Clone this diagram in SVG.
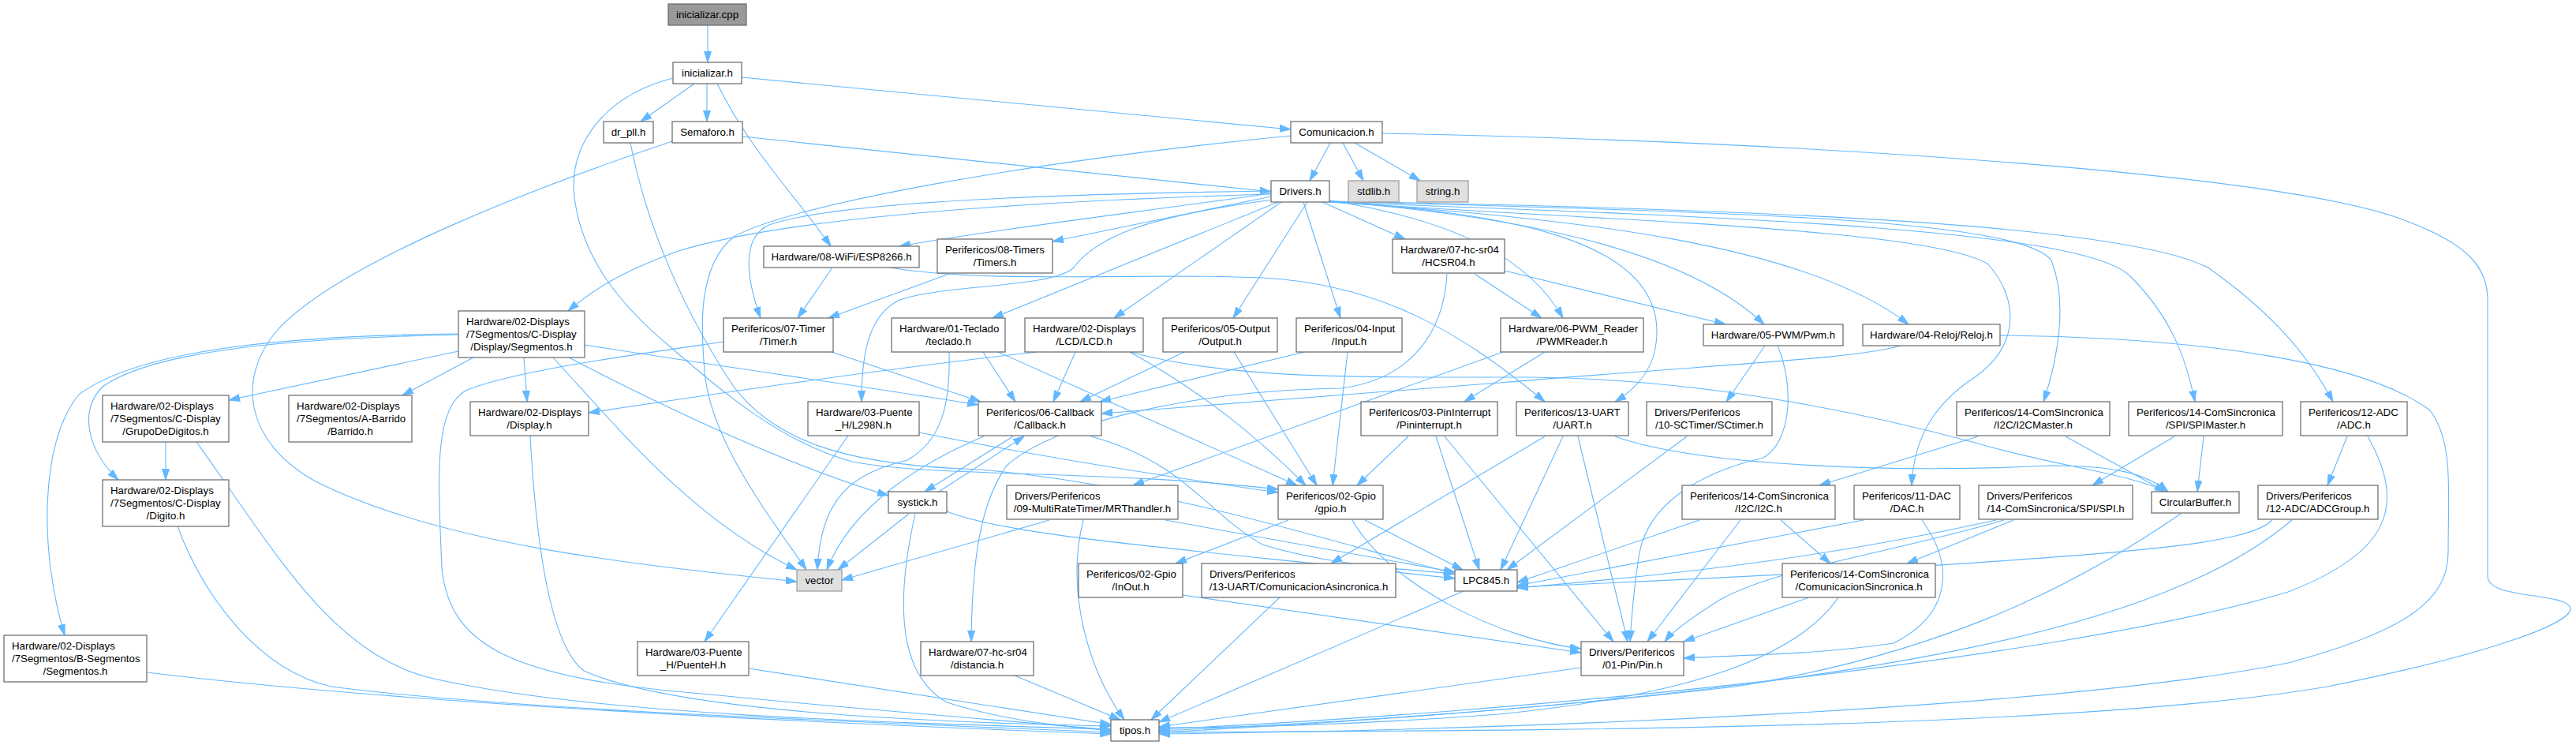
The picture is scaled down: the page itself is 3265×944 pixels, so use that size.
<svg xmlns="http://www.w3.org/2000/svg" width="3265" height="944" viewBox="0 0 3265 944">
<style>
.e{fill:none;stroke:#63b8ff;stroke-width:1.1}
.n rect{fill:#ffffff;stroke:#666666;stroke-width:1.2}
.r rect{fill:#999999;stroke:#666666;stroke-width:1.2}
.x rect{fill:#e0e0e0;stroke:#999999;stroke-width:1.2}
text{font-family:"Liberation Sans",Arial,sans-serif;font-size:13.3px;fill:#000000}
.c{text-anchor:middle}
.l{text-anchor:start}
</style>
<defs>
<marker id="a" markerWidth="14" markerHeight="10" refX="14" refY="5" orient="auto" markerUnits="userSpaceOnUse">
<path d="M0,0.5 L14,5 L0,9.5 z" fill="#63b8ff" stroke="#63b8ff" stroke-width="1"/>
</marker>
</defs>
<rect x="0" y="0" width="3265" height="944" fill="#ffffff"/>
<g id="edges">
<path class="e" marker-end="url(#a)" d="M897,32 L897,79"/>
<path class="e" marker-end="url(#a)" d="M880,106 L812,154"/>
<path class="e" marker-end="url(#a)" d="M896,106 L896,154"/>
<path class="e" marker-end="url(#a)" d="M940,98 L1636,164"/>
<path class="e" marker-end="url(#a)" d="M909,106 C950,190 1010,250 1053,312"/>
<path class="e" marker-end="url(#a)" d="M853,99 C770,120 720,180 728,250 C738,330 790,390 850,440 C920,500 990,560 1080,585 C1180,605 1400,595 1620,620"/>
<path class="e" marker-end="url(#a)" d="M799,181 C820,290 870,400 930,490 C990,570 1100,590 1240,595 C1460,612 1700,690 1844,727"/>
<path class="e" marker-end="url(#a)" d="M941,173 L1611,243"/>
<path class="e" marker-end="url(#a)" d="M852,179 C700,230 430,330 350,420 C300,480 310,560 400,610 C560,690 800,715 1010,737"/>
<path class="e" marker-end="url(#a)" d="M1686,181 L1660,229"/>
<path class="e" marker-end="url(#a)" d="M1702,181 L1728,229"/>
<path class="e" marker-end="url(#a)" d="M1717,181 L1800,229"/>
<path class="e" marker-end="url(#a)" d="M1752,169 C2300,180 2900,220 3050,280 C3130,310 3153,340 3153,380 L3153,730 C3153,760 3250,750 3258,770 C3262,790 3150,830 2950,870 C2600,930 1800,925 1469,928"/>
<path class="e" marker-end="url(#a)" d="M1636,172 C1300,205 1000,260 930,300 C880,340 890,430 893,470 C900,560 980,660 1022,722"/>
<path class="e" marker-end="url(#a)" d="M1611,245 C1450,268 1250,292 1140,312"/>
<path class="e" marker-end="url(#a)" d="M1611,249 L1334,306"/>
<path class="e" marker-end="url(#a)" d="M1611,242 C1300,246 1050,258 975,285 C940,300 945,350 964,403"/>
<path class="e" marker-end="url(#a)" d="M1611,246 C1300,255 1000,275 860,318 C800,340 760,360 720,394"/>
<path class="e" marker-end="url(#a)" d="M1613,253 C1450,275 1390,300 1360,340 C1330,365 1200,360 1140,380 C1100,400 1092,450 1092,509"/>
<path class="e" marker-end="url(#a)" d="M1620,256 L1258,403"/>
<path class="e" marker-end="url(#a)" d="M1624,256 L1412,403"/>
<path class="e" marker-end="url(#a)" d="M1657,256 L1563,403"/>
<path class="e" marker-end="url(#a)" d="M1652,256 L1699,403"/>
<path class="e" marker-end="url(#a)" d="M1676,256 L1781,303"/>
<path class="e" marker-end="url(#a)" d="M1685,254 C1850,280 1940,330 1981,403"/>
<path class="e" marker-end="url(#a)" d="M1685,255 C1900,272 2130,310 2236,411"/>
<path class="e" marker-end="url(#a)" d="M1685,256 C2000,276 2290,310 2419,411"/>
<path class="e" marker-end="url(#a)" d="M1685,255 C1900,270 2100,300 2100,420 C2100,470 2070,495 2047,509"/>
<path class="e" marker-end="url(#a)" d="M1685,256 C2050,280 2450,290 2520,335 C2560,380 2560,440 2500,480 C2440,520 2425,570 2423,615"/>
<path class="e" marker-end="url(#a)" d="M1685,255 C2150,268 2560,275 2600,330 C2620,380 2610,450 2590,509"/>
<path class="e" marker-end="url(#a)" d="M1685,256 C2200,275 2640,290 2700,350 C2750,400 2770,450 2782,509"/>
<path class="e" marker-end="url(#a)" d="M1685,255 C2250,265 2700,285 2800,340 C2870,390 2920,440 2957,509"/>
<path class="e" marker-end="url(#a)" d="M1055,339 L1011,403"/>
<path class="e" marker-end="url(#a)" d="M1128,339 C1250,360 1450,345 1600,352 C1750,360 1850,420 1958,509"/>
<path class="e" marker-end="url(#a)" d="M1203,347 L1050,403"/>
<path class="e" marker-end="url(#a)" d="M1869,347 L1954,403"/>
<path class="e" marker-end="url(#a)" d="M1907,343 L2187,411"/>
<path class="e" marker-end="url(#a)" d="M1834,347 C1830,420 1790,480 1700,492 C1500,495 1330,540 1276,590 C1240,640 1232,720 1231,813"/>
<path class="e" marker-end="url(#a)" d="M581,445 L290,507"/>
<path class="e" marker-end="url(#a)" d="M581,424 C400,428 200,440 130,490 C100,520 110,570 150,608"/>
<path class="e" marker-end="url(#a)" d="M581,423 C380,425 180,440 100,500 C50,560 50,700 82,805"/>
<path class="e" marker-end="url(#a)" d="M600,453 L510,501"/>
<path class="e" marker-end="url(#a)" d="M664,453 L668,509"/>
<path class="e" marker-end="url(#a)" d="M701,453 C790,550 880,660 1010,722"/>
<path class="e" marker-end="url(#a)" d="M721,453 C850,520 1000,590 1126,628"/>
<path class="e" marker-end="url(#a)" d="M741,437 C950,470 1100,490 1240,513"/>
<path class="e" marker-end="url(#a)" d="M1051,445 L1243,509"/>
<path class="e" marker-end="url(#a)" d="M917,433 C800,450 650,470 590,495 C550,520 555,600 560,720 C570,820 650,860 900,880 C1100,900 1300,915 1408,925"/>
<path class="e" marker-end="url(#a)" d="M1203,446 C1205,520 1190,560 1150,583 C1080,600 1040,630 1036,722"/>
<path class="e" marker-end="url(#a)" d="M1246,446 L1287,509"/>
<path class="e" marker-end="url(#a)" d="M1265,446 L1644,615"/>
<path class="e" marker-end="url(#a)" d="M1363,446 L1335,509"/>
<path class="e" marker-end="url(#a)" d="M1432,446 C1530,500 1600,560 1655,615"/>
<path class="e" marker-end="url(#a)" d="M1314,446 C1100,470 900,500 746,523"/>
<path class="e" marker-end="url(#a)" d="M1432,446 C1560,480 1700,478 1940,478 C2150,480 2350,520 2500,560 C2600,590 2700,600 2745,623"/>
<path class="e" marker-end="url(#a)" d="M1501,446 L1369,509"/>
<path class="e" marker-end="url(#a)" d="M1564,446 L1669,615"/>
<path class="e" marker-end="url(#a)" d="M1653,446 L1394,509"/>
<path class="e" marker-end="url(#a)" d="M1708,446 L1689,615"/>
<path class="e" marker-end="url(#a)" d="M1905,446 L1436,615"/>
<path class="e" marker-end="url(#a)" d="M1958,446 L1856,509"/>
<path class="e" marker-end="url(#a)" d="M2237,438 L2188,509"/>
<path class="e" marker-end="url(#a)" d="M2253,438 C2275,490 2270,560 2235,580 C2150,600 2090,640 2078,700 C2070,750 2068,780 2066,813"/>
<path class="e" marker-end="url(#a)" d="M2409,438 C2350,455 2200,460 1900,485 C1700,500 1500,515 1396,524"/>
<path class="e" marker-end="url(#a)" d="M2535,425 C2800,428 3000,460 3080,520 C3110,560 3103,620 3103,700 C3103,760 3050,800 2900,840 C2600,900 1900,925 1469,930"/>
<path class="e" marker-end="url(#a)" d="M1165,548 C1300,575 1450,600 1620,624"/>
<path class="e" marker-end="url(#a)" d="M1075,552 L893,813"/>
<path class="e" marker-end="url(#a)" d="M1247,553 C1170,585 1080,640 1048,722"/>
<path class="e" marker-end="url(#a)" d="M1284,553 L1172,623"/>
<path class="e" marker-end="url(#a)" d="M1383,553 C1500,585 1530,650 1600,690 C1680,715 1780,722 1844,727"/>
<path class="e" marker-end="url(#a)" d="M1190,623 L1298,553"/>
<path class="e" marker-end="url(#a)" d="M1152,651 L1062,722"/>
<path class="e" marker-end="url(#a)" d="M1160,651 C1140,740 1130,850 1200,890 C1280,915 1350,920 1408,926"/>
<path class="e" marker-end="url(#a)" d="M1200,648 C1280,680 1500,695 1844,733"/>
<path class="e" marker-end="url(#a)" d="M1330,659 L1067,735"/>
<path class="e" marker-end="url(#a)" d="M1373,659 C1350,750 1380,850 1425,912"/>
<path class="e" marker-end="url(#a)" d="M1477,659 L1844,725"/>
<path class="e" marker-end="url(#a)" d="M1785,553 L1720,615"/>
<path class="e" marker-end="url(#a)" d="M1820,553 L1875,722"/>
<path class="e" marker-end="url(#a)" d="M1831,553 L2045,813"/>
<path class="e" marker-end="url(#a)" d="M1958,553 L1687,714"/>
<path class="e" marker-end="url(#a)" d="M1981,553 L1902,722"/>
<path class="e" marker-end="url(#a)" d="M2000,553 L2063,813"/>
<path class="e" marker-end="url(#a)" d="M2047,553 C2150,590 2400,600 2600,590 C2680,590 2720,600 2748,623"/>
<path class="e" marker-end="url(#a)" d="M2138,553 L1910,722"/>
<path class="e" marker-end="url(#a)" d="M1633,659 L1490,714"/>
<path class="e" marker-end="url(#a)" d="M1730,659 L1854,722"/>
<path class="e" marker-end="url(#a)" d="M1714,659 C1760,740 1900,810 2004,822"/>
<path class="e" marker-end="url(#a)" d="M1499,754 L2004,827"/>
<path class="e" marker-end="url(#a)" d="M1622,757 L1459,912"/>
<path class="e" marker-end="url(#a)" d="M1855,749 L1469,915"/>
<path class="e" marker-end="url(#a)" d="M2004,846 L1469,921"/>
<path class="e" marker-end="url(#a)" d="M2507,553 L2306,615"/>
<path class="e" marker-end="url(#a)" d="M2618,553 L2745,623"/>
<path class="e" marker-end="url(#a)" d="M2756,553 L2652,615"/>
<path class="e" marker-end="url(#a)" d="M2793,553 L2785,623"/>
<path class="e" marker-end="url(#a)" d="M2975,553 L2950,615"/>
<path class="e" marker-end="url(#a)" d="M3001,553 C3050,640 3030,700 2900,750 C2600,840 1900,905 1469,924"/>
<path class="e" marker-end="url(#a)" d="M2154,659 L1923,738"/>
<path class="e" marker-end="url(#a)" d="M2206,659 L2088,813"/>
<path class="e" marker-end="url(#a)" d="M2257,659 L2320,714"/>
<path class="e" marker-end="url(#a)" d="M2362,659 L1923,742"/>
<path class="e" marker-end="url(#a)" d="M2436,659 C2480,720 2470,780 2400,815 C2300,830 2200,830 2134,834"/>
<path class="e" marker-end="url(#a)" d="M2530,659 C2300,710 2100,730 1923,745"/>
<path class="e" marker-end="url(#a)" d="M2540,659 C2400,700 2250,720 2180,760 C2140,785 2120,800 2110,813"/>
<path class="e" marker-end="url(#a)" d="M2552,659 L2417,714"/>
<path class="e" marker-end="url(#a)" d="M2293,757 L2134,813"/>
<path class="e" marker-end="url(#a)" d="M2330,757 C2280,830 2150,880 1900,905 C1700,920 1550,922 1469,922"/>
<path class="e" marker-end="url(#a)" d="M2764,651 C2620,750 2450,830 2200,870 C1900,905 1600,920 1469,926"/>
<path class="e" marker-end="url(#a)" d="M2880,659 C2850,690 2700,700 2400,720 C2150,735 2000,740 1923,744"/>
<path class="e" marker-end="url(#a)" d="M2905,659 C2750,790 2400,880 1469,928"/>
<path class="e" marker-end="url(#a)" d="M210,560 L210,608"/>
<path class="e" marker-end="url(#a)" d="M249,560 C350,700 420,830 550,860 C750,905 1100,915 1408,924"/>
<path class="e" marker-end="url(#a)" d="M225,667 C260,760 330,850 420,870 C650,900 1100,915 1408,928"/>
<path class="e" marker-end="url(#a)" d="M186,852 C500,890 1000,915 1408,930"/>
<path class="e" marker-end="url(#a)" d="M672,552 C680,700 700,820 740,850 C850,900 1150,915 1408,920"/>
<path class="e" marker-end="url(#a)" d="M949,847 L1408,918"/>
<path class="e" marker-end="url(#a)" d="M1286,856 L1420,912"/>
</g>
<g id="n1" class="r"><rect x="847" y="5" width="99" height="27"/><text class="c" x="896.5" y="23">inicializar.cpp</text></g>
<g id="n2" class="n"><rect x="853" y="79" width="87" height="27"/><text class="c" x="896.5" y="97">inicializar.h</text></g>
<g id="n3" class="n"><rect x="765" y="154" width="63" height="27"/><text class="c" x="796.5" y="172">dr_pll.h</text></g>
<g id="n4" class="n"><rect x="852" y="154" width="89" height="27"/><text class="c" x="896.5" y="172">Semaforo.h</text></g>
<g id="n5" class="n"><rect x="1636" y="154" width="116" height="27"/><text class="c" x="1694" y="172">Comunicacion.h</text></g>
<g id="n6" class="n"><rect x="1611" y="229" width="74" height="27"/><text class="c" x="1648" y="247">Drivers.h</text></g>
<g id="n7" class="x"><rect x="1709" y="229" width="64" height="27"/><text class="c" x="1741" y="247">stdlib.h</text></g>
<g id="n8" class="x"><rect x="1796" y="229" width="65" height="27"/><text class="c" x="1828.5" y="247">string.h</text></g>
<g id="n9" class="n"><rect x="968" y="312" width="197" height="27"/><text class="c" x="1066.5" y="330">Hardware/08-WiFi/ESP8266.h</text></g>
<g id="n10" class="n"><rect x="1188" y="303" width="146" height="43"/><text class="l" x="1198" y="320.5">Perifericos/08-Timers</text><text class="c" x="1261" y="336.5">/Timers.h</text></g>
<g id="n11" class="n"><rect x="1765" y="303" width="142" height="43"/><text class="l" x="1775" y="320.5">Hardware/07-hc-sr04</text><text class="c" x="1836" y="336.5">/HCSR04.h</text></g>
<g id="n12" class="n"><rect x="581" y="394" width="160" height="59"/><text class="l" x="591" y="412">Hardware/02-Displays</text><text class="l" x="591" y="428">/7Segmentos/C-Display</text><text class="c" x="661" y="444">/Display/Segmentos.h</text></g>
<g id="n13" class="n"><rect x="917" y="403" width="139" height="43"/><text class="l" x="927" y="420.5">Perifericos/07-Timer</text><text class="c" x="986.5" y="436.5">/Timer.h</text></g>
<g id="n14" class="n"><rect x="1130" y="403" width="144" height="43"/><text class="l" x="1140" y="420.5">Hardware/01-Teclado</text><text class="c" x="1202" y="436.5">/teclado.h</text></g>
<g id="n15" class="n"><rect x="1299" y="403" width="150" height="43"/><text class="l" x="1309" y="420.5">Hardware/02-Displays</text><text class="c" x="1374" y="436.5">/LCD/LCD.h</text></g>
<g id="n16" class="n"><rect x="1474" y="403" width="145" height="43"/><text class="l" x="1484" y="420.5">Perifericos/05-Output</text><text class="c" x="1546.5" y="436.5">/Output.h</text></g>
<g id="n17" class="n"><rect x="1643" y="403" width="134" height="43"/><text class="l" x="1653" y="420.5">Perifericos/04-Input</text><text class="c" x="1710" y="436.5">/Input.h</text></g>
<g id="n18" class="n"><rect x="1902" y="403" width="181" height="43"/><text class="l" x="1912" y="420.5">Hardware/06-PWM_Reader</text><text class="c" x="1992.5" y="436.5">/PWMReader.h</text></g>
<g id="n19" class="n"><rect x="2159" y="411" width="177" height="27"/><text class="c" x="2247.5" y="429">Hardware/05-PWM/Pwm.h</text></g>
<g id="n20" class="n"><rect x="2361" y="411" width="174" height="27"/><text class="c" x="2448" y="429">Hardware/04-Reloj/Reloj.h</text></g>
<g id="n21" class="n"><rect x="130" y="501" width="160" height="59"/><text class="l" x="140" y="519">Hardware/02-Displays</text><text class="l" x="140" y="535">/7Segmentos/C-Display</text><text class="c" x="210" y="551">/GrupoDeDigitos.h</text></g>
<g id="n22" class="n"><rect x="366" y="501" width="156" height="59"/><text class="l" x="376" y="519">Hardware/02-Displays</text><text class="l" x="376" y="535">/7Segmentos/A-Barrido</text><text class="c" x="444" y="551">/Barrido.h</text></g>
<g id="n23" class="n"><rect x="596" y="509" width="150" height="43"/><text class="l" x="606" y="526.5">Hardware/02-Displays</text><text class="c" x="671" y="542.5">/Display.h</text></g>
<g id="n24" class="n"><rect x="1024" y="509" width="141" height="43"/><text class="l" x="1034" y="526.5">Hardware/03-Puente</text><text class="c" x="1094.5" y="542.5">_H/L298N.h</text></g>
<g id="n25" class="n"><rect x="1240" y="509" width="156" height="43"/><text class="l" x="1250" y="526.5">Perifericos/06-Callback</text><text class="c" x="1318" y="542.5">/Callback.h</text></g>
<g id="n26" class="n"><rect x="1725" y="509" width="173" height="43"/><text class="l" x="1735" y="526.5">Perifericos/03-PinInterrupt</text><text class="c" x="1811.5" y="542.5">/Pininterrupt.h</text></g>
<g id="n27" class="n"><rect x="1922" y="509" width="142" height="43"/><text class="l" x="1932" y="526.5">Perifericos/13-UART</text><text class="c" x="1993" y="542.5">/UART.h</text></g>
<g id="n28" class="n"><rect x="2087" y="509" width="159" height="43"/><text class="l" x="2097" y="526.5">Drivers/Perifericos</text><text class="c" x="2166.5" y="542.5">/10-SCTimer/SCtimer.h</text></g>
<g id="n29" class="n"><rect x="2480" y="509" width="194" height="43"/><text class="l" x="2490" y="526.5">Perifericos/14-ComSincronica</text><text class="c" x="2577" y="542.5">/I2C/I2CMaster.h</text></g>
<g id="n30" class="n"><rect x="2698" y="509" width="195" height="43"/><text class="l" x="2708" y="526.5">Perifericos/14-ComSincronica</text><text class="c" x="2795.5" y="542.5">/SPI/SPIMaster.h</text></g>
<g id="n31" class="n"><rect x="2916" y="509" width="135" height="43"/><text class="l" x="2926" y="526.5">Perifericos/12-ADC</text><text class="c" x="2983.5" y="542.5">/ADC.h</text></g>
<g id="n32" class="n"><rect x="130" y="608" width="160" height="59"/><text class="l" x="140" y="626">Hardware/02-Displays</text><text class="l" x="140" y="642">/7Segmentos/C-Display</text><text class="c" x="210" y="658">/Digito.h</text></g>
<g id="n33" class="n"><rect x="1126" y="623" width="74" height="27"/><text class="c" x="1163" y="641">systick.h</text></g>
<g id="n34" class="n"><rect x="1276" y="615" width="217" height="43"/><text class="l" x="1286" y="632.5">Drivers/Perifericos</text><text class="c" x="1384.5" y="648.5">/09-MultiRateTimer/MRThandler.h</text></g>
<g id="n35" class="n"><rect x="1620" y="615" width="133" height="43"/><text class="l" x="1630" y="632.5">Perifericos/02-Gpio</text><text class="c" x="1686.5" y="648.5">/gpio.h</text></g>
<g id="n36" class="n"><rect x="2132" y="615" width="194" height="43"/><text class="l" x="2142" y="632.5">Perifericos/14-ComSincronica</text><text class="c" x="2229" y="648.5">/I2C/I2C.h</text></g>
<g id="n37" class="n"><rect x="2350" y="615" width="134" height="43"/><text class="l" x="2360" y="632.5">Perifericos/11-DAC</text><text class="c" x="2417" y="648.5">/DAC.h</text></g>
<g id="n38" class="n"><rect x="2508" y="615" width="195" height="43"/><text class="l" x="2518" y="632.5">Drivers/Perifericos</text><text class="c" x="2605.5" y="648.5">/14-ComSincronica/SPI/SPI.h</text></g>
<g id="n39" class="n"><rect x="2727" y="623" width="111" height="27"/><text class="c" x="2782.5" y="641">CircularBuffer.h</text></g>
<g id="n40" class="n"><rect x="2862" y="615" width="152" height="43"/><text class="l" x="2872" y="632.5">Drivers/Perifericos</text><text class="c" x="2938" y="648.5">/12-ADC/ADCGroup.h</text></g>
<g id="n41" class="x"><rect x="1010" y="722" width="57" height="27"/><text class="c" x="1038.5" y="740">vector</text></g>
<g id="n42" class="n"><rect x="1367" y="714" width="132" height="43"/><text class="l" x="1377" y="731.5">Perifericos/02-Gpio</text><text class="c" x="1433" y="747.5">/InOut.h</text></g>
<g id="n43" class="n"><rect x="1523" y="714" width="246" height="43"/><text class="l" x="1533" y="731.5">Drivers/Perifericos</text><text class="c" x="1646" y="747.5">/13-UART/ComunicacionAsincronica.h</text></g>
<g id="n44" class="n"><rect x="1844" y="722" width="79" height="27"/><text class="c" x="1883.5" y="740">LPC845.h</text></g>
<g id="n45" class="n"><rect x="2259" y="714" width="194" height="43"/><text class="l" x="2269" y="731.5">Perifericos/14-ComSincronica</text><text class="c" x="2356" y="747.5">/ComunicacionSincronica.h</text></g>
<g id="n46" class="n"><rect x="5" y="805" width="181" height="59"/><text class="l" x="15" y="823">Hardware/02-Displays</text><text class="l" x="15" y="839">/7Segmentos/B-Segmentos</text><text class="c" x="95.5" y="855">/Segmentos.h</text></g>
<g id="n47" class="n"><rect x="808" y="813" width="141" height="43"/><text class="l" x="818" y="830.5">Hardware/03-Puente</text><text class="c" x="878.5" y="846.5">_H/PuenteH.h</text></g>
<g id="n48" class="n"><rect x="1167" y="813" width="143" height="43"/><text class="l" x="1177" y="830.5">Hardware/07-hc-sr04</text><text class="c" x="1238.5" y="846.5">/distancia.h</text></g>
<g id="n49" class="n"><rect x="2004" y="813" width="130" height="43"/><text class="l" x="2014" y="830.5">Drivers/Perifericos</text><text class="c" x="2069" y="846.5">/01-Pin/Pin.h</text></g>
<g id="n50" class="n"><rect x="1408" y="912" width="61" height="27"/><text class="c" x="1438.5" y="930">tipos.h</text></g>
</svg>
